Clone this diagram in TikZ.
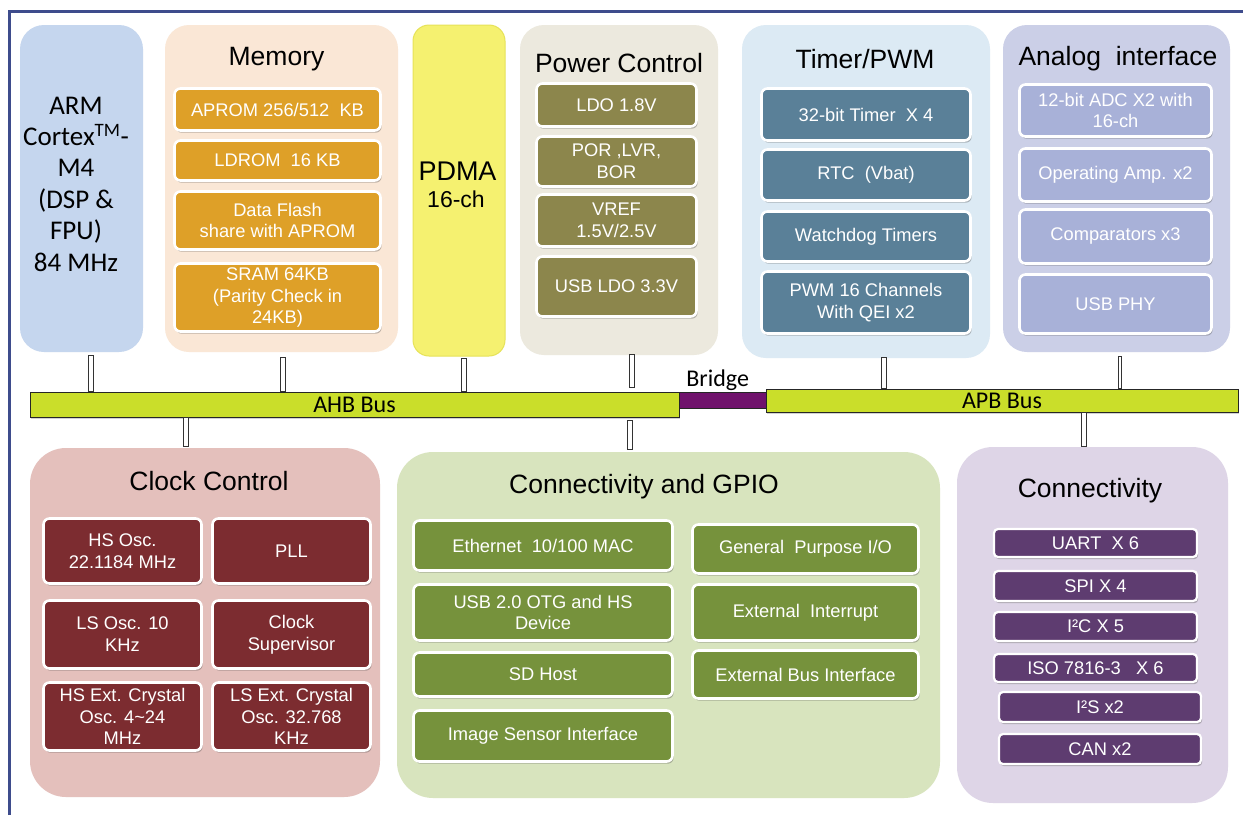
\documentclass[tikz,border=0pt]{standalone}
\usepackage{fontspec}
\setmainfont{Liberation Sans}
\newfontfamily\carl{Carlito}
\usetikzlibrary{shadows}

\definecolor{framecol}{RGB}{62,76,140}
\definecolor{armfill}{RGB}{197,214,238}
\definecolor{memfill}{RGB}{250,231,214}
\definecolor{memcell}{RGB}{222,160,40}
\definecolor{pdmafill}{RGB}{245,241,112}
\definecolor{pdmaline}{RGB}{230,226,88}
\definecolor{powfill}{RGB}{236,233,222}
\definecolor{powcell}{RGB}{140,134,76}
\definecolor{timfill}{RGB}{220,234,244}
\definecolor{timcell}{RGB}{90,128,152}
\definecolor{anafill}{RGB}{203,207,231}
\definecolor{anacell}{RGB}{168,177,216}
\definecolor{busfill}{RGB}{202,222,42}
\definecolor{bridgefill}{RGB}{112,18,108}
\definecolor{clkfill}{RGB}{228,192,188}
\definecolor{clkcell}{RGB}{124,44,48}
\definecolor{gpiofill}{RGB}{216,228,190}
\definecolor{gpiocell}{RGB}{118,146,60}
\definecolor{confill}{RGB}{222,213,231}
\definecolor{concell}{RGB}{94,60,112}

\tikzset{
  every node/.style={inner sep=0pt, outer sep=0pt},
  sz/.style 2 args={minimum width=#1, minimum height=#2},
  panel/.style={rectangle, rounded corners=24pt},
  lowpanel/.style={rectangle, rounded corners=36pt},
  title/.style={anchor=base, font=\fontsize{26.5}{30}\selectfont},
  cell/.style={rectangle, rounded corners=6pt, draw=white, line width=2.6pt,
    text=white, align=center, font=\fontsize{18.3}{21.8}\selectfont,
    drop shadow={shadow xshift=1.2pt, shadow yshift=-2.2pt, opacity=0.35, fill=black!70}},
  memc/.style={cell, fill=memcell},
  powc/.style={cell, fill=powcell},
  timc/.style={cell, fill=timcell},
  anac/.style={cell, fill=anacell},
  clkc/.style={cell, fill=clkcell},
  gpioc/.style={cell, fill=gpiocell},
  conc/.style={cell, fill=concell, line width=2.2pt, rounded corners=4pt},
  bus/.style={rectangle, fill=busfill, draw=black!85, line width=0.9pt,
    font=\carl\fontsize{24}{28}\selectfont,
    drop shadow={shadow xshift=1pt, shadow yshift=-1.5pt, opacity=0.25, fill=black!70}},
  link/.style={line width=6pt, draw=black!80,
    postaction={draw=white, line width=3.6pt, shorten <=1.2pt, shorten >=1.2pt}},
  thinlink/.style={line width=4pt, draw=black!80,
    postaction={draw=white, line width=1.6pt, shorten <=1.2pt, shorten >=1.2pt}},
}

\begin{document}
\begin{tikzpicture}[x=1pt,y=-1pt]
\useasboundingbox (0,0) rectangle (1243,815);
\fill[white] (0,0) rectangle (1243,815);
\draw[framecol, line width=3pt] (9.5,815) -- (9.5,11) -- (1243,11);

% ---------- upper row of blocks ----------
\node[panel, fill=armfill, sz={123}{327}] (armC) at (81.5,188.5) {};
\node[font=\carl\fontsize{27}{31.4}\selectfont, align=center] (armT) at (76,184)
  {ARM\\Cortex\textsuperscript{TM}-\\M4\\(DSP \&\\FPU)\\84 MHz};

\node[panel, fill=memfill, sz={233}{327}] (memC) at (281.5,188.5) {};
\node[title] (memT) at (276.5,65) {Memory};
\node[memc, sz={206}{42}] (aprom)  at (277.5,109.5) {APROM 256/512\ \ KB};
\node[memc, sz={206}{40}] (ldrom)  at (277.5,160.5) {LDROM\ \ 16 KB};
\node[memc, sz={206}{58}] (dflash) at (277.5,220.5) {Data Flash\\share with APROM};
\node[memc, sz={206}{68}] (sram)   at (277.5,297.5) {SRAM 64KB\\(Parity Check in\\24KB)};

\node[panel, fill=pdmafill, draw=pdmaline, line width=1pt, rounded corners=16pt, sz={92}{331}] (pdmaC) at (459,190.5) {};
\node[anchor=base, font=\fontsize{27}{30}\selectfont] (pdmaT) at (457.5,180) {PDMA};
\node[anchor=base, font=\fontsize{23}{26}\selectfont] (pdmaN) at (456,207) {16-ch};

\node[panel, fill=powfill, sz={198}{330}] (powC) at (619,190) {};
\node[title] (powT) at (619,72) {Power Control};
\node[powc, sz={160}{43}] (ldo)    at (616.5,105)   {LDO 1.8V};
\node[powc, sz={160}{50}] (por)    at (616.5,161.5) {POR ,LVR,\\BOR};
\node[powc, sz={160}{52}] (vref)   at (616.5,220.5) {VREF\\1.5V/2.5V};
\node[powc, sz={160}{60}] (usbldo) at (616.5,286.5) {USB LDO 3.3V};

\node[panel, fill=timfill, sz={248}{333}] (timC) at (866,191.5) {};
\node[title] (timT) at (865,68) {Timer/PWM};
\node[timc, sz={209}{52}] (t32) at (866,114.5) {32-bit Timer\ \ X 4};
\node[timc, sz={209}{51}] (rtc) at (866,175)   {RTC\ \ (Vbat)};
\node[timc, sz={209}{50}] (wdt) at (866,236.5) {Watchdog Timers};
\node[timc, sz={209}{62}] (pwm) at (866,302.5) {PWM 16 Channels\\With QEI x2};

\node[panel, fill=anafill, sz={227}{327}] (anaC) at (1116.5,188.5) {};
\node[title] (anaT) at (1118,65) {Analog\ \ interface};
\node[anac, sz={192}{52}] (adc)    at (1115.5,110.5) {12-bit ADC X2 with\\16-ch};
\node[anac, sz={192}{53}] (opamp)  at (1115.5,175)   {Operating Amp. x2};
\node[anac, sz={192}{54}] (comp)   at (1115.5,236.5) {Comparators x3};
\node[anac, sz={192}{59}] (usbphy) at (1115.5,304)   {USB PHY};

% ---------- buses ----------
\node[bus, sz={649}{25}] (ahb) at (354.5,404.5) {AHB Bus};
\node[rectangle, fill=bridgefill, draw=black!85, line width=0.9pt, sz={88}{16}] (bridge) at (723,400) {};
\node[anchor=base, font=\carl\fontsize{24}{28}\selectfont] (bridgeT) at (717.7,386.7) {Bridge};
\node[bus, sz={472}{23}] (apb) at (1002,400.5) {APB Bus};

% ---------- lower row of blocks ----------
\node[lowpanel, fill=clkfill, sz={350}{349}] (clkC) at (205,622.5) {};
\node[title] (clkT) at (209,490) {Clock Control};
\node[clkc, sz={158}{65}] (hsosc) at (122.5,551)   {HS Osc.\\22.1184 MHz};
\node[clkc, sz={158}{65}] (pll)   at (291.5,551)   {PLL};
\node[clkc, sz={158}{68}] (lsosc) at (122.5,634.5) {LS Osc. 10\\KHz};
\node[clkc, sz={158}{68}] (csup)  at (291.5,634.5) {Clock\\Supervisor};
\node[clkc, sz={158}{68}] (hsx)   at (122.5,716.5) {HS Ext. Crystal\\Osc. 4\textasciitilde24\\MHz};
\node[clkc, sz={158}{68}] (lsx)   at (291.5,716.5) {LS Ext. Crystal\\Osc. 32.768\\KHz};

\node[lowpanel, fill=gpiofill, sz={543}{346}] (gpioC) at (668.5,625) {};
\node[title] (gpioT) at (644,493) {Connectivity and GPIO};
\node[gpioc, sz={259}{50}] (eth)    at (543,545.5) {Ethernet\ \ 10/100 MAC};
\node[gpioc, sz={259}{56}] (usbotg) at (543,612.5) {USB 2.0 OTG and HS\\Device};
\node[gpioc, sz={259}{44}] (sdh)    at (543,674.5) {SD Host};
\node[gpioc, sz={259}{51}] (isi)    at (543,736)   {Image Sensor Interface};
\node[gpioc, sz={226}{49}] (gpio)   at (805.5,549) {General\ \ Purpose I/O};
\node[gpioc, sz={226}{56}] (extint) at (805.5,612.5) {External\ \ Interrupt};
\node[gpioc, sz={226}{48}] (ebi)    at (805.5,674.5) {External Bus Interface};

\node[lowpanel, fill=confill, sz={271}{356}] (conC) at (1092.5,625) {};
\node[title] (conT) at (1090,497) {Connectivity};
\node[conc, sz={203}{28}] (uart) at (1095.5,543)   {UART\ \ X 6};
\node[conc, sz={203}{30}] (spi)  at (1095.5,586)   {SPI X 4};
\node[conc, sz={203}{29}] (i2c)  at (1095.5,626.5) {I²C X 5};
\node[conc, sz={203}{28}] (iso)  at (1095.5,668)   {ISO 7816-3\ \ \ X 6};
\node[conc, sz={202}{30}] (i2s)  at (1100,707)     {I²S x2};
\node[conc, sz={202}{30}] (can)  at (1100,749)     {CAN x2};

% ---------- bus links ----------
\coordinate (l1) at (91,355);
\coordinate (l2) at (283,357);
\coordinate (l3) at (464,358);
\coordinate (l4a) at (632,354);
\coordinate (l4b) at (632,388);
\coordinate (l5) at (884,357);
\coordinate (l6) at (1120,356);
\coordinate (l7) at (186,447);
\coordinate (l8a) at (630,420);
\coordinate (l8b) at (630,450);
\coordinate (l9) at (1084,447);

\draw[link] (l1) -- (l1 |- ahb.north);
\draw[link] (l2) -- (l2 |- ahb.north);
\draw[link] (l3) -- (l3 |- ahb.north);
\draw[link] (l4a) -- (l4b);
\draw[link] (l5) -- (l5 |- apb.north);
\draw[thinlink] (l6) -- (l6 |- apb.north);
\draw[link] (l7 |- ahb.south) -- (l7);
\draw[link] (l8a) -- (l8b);
\draw[link] (l9 |- apb.south) -- (l9);
\end{tikzpicture}
\end{document}
